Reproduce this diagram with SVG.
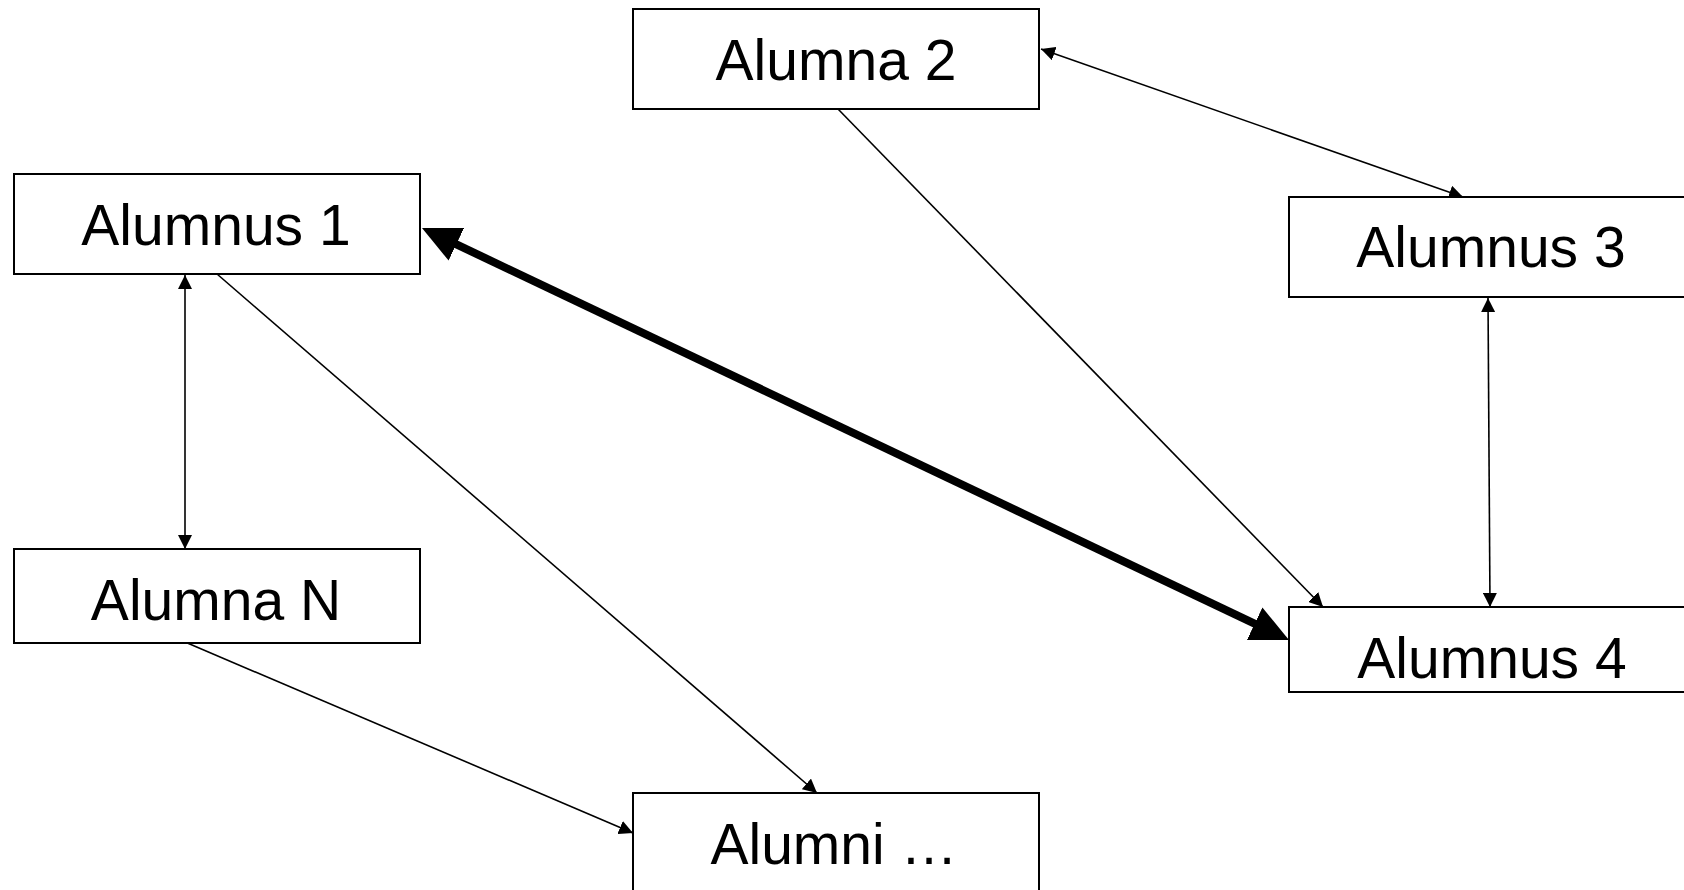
<svg xmlns="http://www.w3.org/2000/svg" width="1684" height="890" viewBox="0 0 1684 890">
<style>
.box{fill:#fff;stroke:#000;stroke-width:2}
.lbl{font-family:"Liberation Sans",Arial,sans-serif;font-size:57px;fill:#000;text-anchor:middle}
.thin{stroke:#000;stroke-width:1.6;fill:none}
.thick{stroke:#000;stroke-width:8;fill:none}
</style>
<defs>
<marker id="ah" markerUnits="userSpaceOnUse" markerWidth="14" markerHeight="14" viewBox="0 0 14 14" refX="14" refY="7" orient="auto-start-reverse"><path d="M0,0 L14,7 L0,14 Z" fill="#000"/></marker>
<marker id="ahBig" markerUnits="userSpaceOnUse" markerWidth="38" markerHeight="36" viewBox="0 0 38 36" refX="8" refY="18" orient="auto-start-reverse"><path d="M0,0 L38,18 L0,36 Z" fill="#000"/></marker>
</defs>
<rect width="1684" height="890" fill="#fff"/>
<g id="connectors">
<line class="thin" x1="185" y1="275" x2="185" y2="549" marker-start="url(#ah)" marker-end="url(#ah)"/>
<line class="thin" x1="217" y1="274" x2="817" y2="793" marker-end="url(#ah)"/>
<line class="thin" x1="185" y1="642" x2="633" y2="833" marker-end="url(#ah)"/>
<line class="thin" x1="838" y1="109" x2="1323" y2="607" marker-end="url(#ah)"/>
<line class="thin" x1="1041" y1="49" x2="1463" y2="197" marker-start="url(#ah)" marker-end="url(#ah)"/>
<line class="thin" x1="1488" y1="298" x2="1490" y2="607" marker-start="url(#ah)" marker-end="url(#ah)"/>
<line class="thick" x1="449.1" y1="240.9" x2="1261.9" y2="627.1" marker-start="url(#ahBig)" marker-end="url(#ahBig)"/>
</g>
<g id="alumnus1"><rect class="box" x="14" y="174" width="406" height="100"/><text class="lbl" x="216" y="245">Alumnus 1</text></g>
<g id="alumna2"><rect class="box" x="633" y="9" width="406" height="100"/><text class="lbl" x="836" y="80">Alumna 2</text></g>
<g id="alumnus3"><rect class="box" x="1289" y="197" width="406" height="100"/><text class="lbl" x="1491" y="267">Alumnus 3</text></g>
<g id="alumnus4"><rect class="box" x="1289" y="607" width="406" height="85"/><text class="lbl" x="1492" y="678">Alumnus 4</text></g>
<g id="alumnaN"><rect class="box" x="14" y="549" width="406" height="94"/><text class="lbl" x="216" y="620">Alumna N</text></g>
<g id="alumni"><rect class="box" x="633" y="793" width="406" height="120"/><text class="lbl" x="834" y="864">Alumni …</text></g>
</svg>
